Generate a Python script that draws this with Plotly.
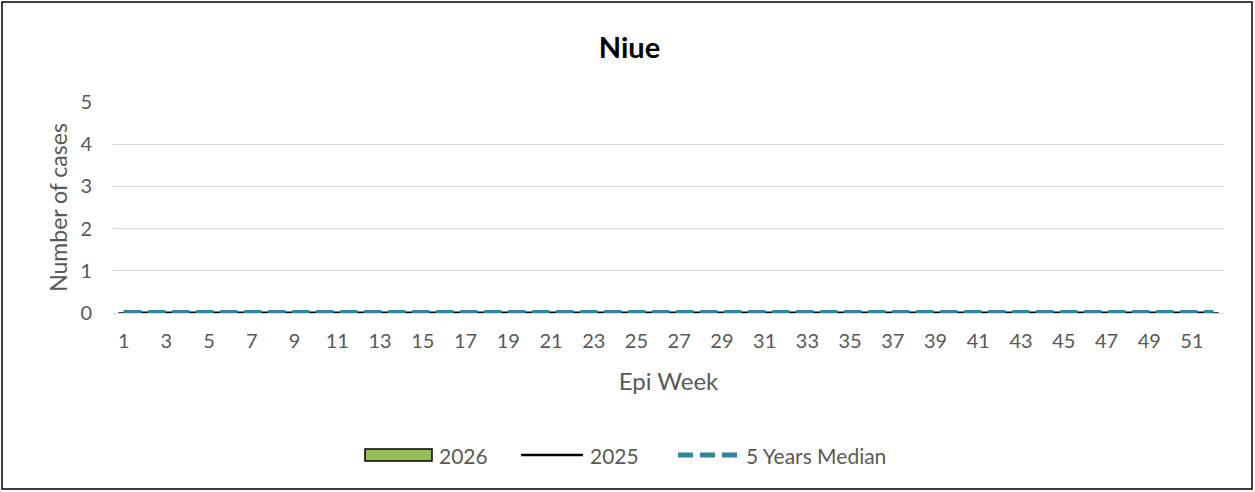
import plotly.graph_objects as go

weeks = [str(w) for w in range(1, 53)]
cases_2026 = [0] * 52
cases_2025 = [0] * 52
median_5y = [0] * 52
tick_weeks = [str(w) for w in range(1, 53, 2)]
series_names = ["2026", "2025", "5 Years Median"]

W, H = 1255, 492
ml, mr, mt, mb = 113, 31, 102, 179
pw, ph = W - ml - mr, H - mt - mb

font_family = "Lato, Open Sans, sans-serif"
gray = "#595959"
green = "#9BBB59"
teal = "#31859C"


def px_x(px):
    return (px - ml) / pw


def px_y(py):
    return (H - mb - py) / ph


fig = go.Figure()
fig.add_trace(go.Bar(x=weeks, y=cases_2026, name=series_names[0], showlegend=False,
                     marker=dict(color=green, line=dict(color="black", width=1.5))))
fig.add_trace(go.Scatter(x=weeks, y=cases_2025, name=series_names[1], mode="lines", showlegend=False,
                         line=dict(color="black", width=3)))
fig.add_trace(go.Scatter(x=weeks, y=median_5y, name=series_names[2], mode="lines", showlegend=False,
                         line=dict(color=teal, width=6, dash="18px,6px")))

# outer frame
fig.add_shape(type="rect", xref="paper", yref="paper",
              x0=px_x(2), x1=px_x(1252), y0=px_y(489), y1=px_y(2),
              line=dict(color="black", width=1.5), layer="below")

# manual legend
ly = px_y(455)
fig.add_shape(type="rect", xref="paper", yref="paper",
              x0=px_x(365), x1=px_x(432), y0=px_y(461), y1=px_y(449),
              fillcolor=green, line=dict(color="black", width=1.5))
fig.add_shape(type="line", xref="paper", yref="paper",
              x0=px_x(521), x1=px_x(583), y0=ly, y1=ly,
              line=dict(color="black", width=2.5))
fig.add_shape(type="line", xref="paper", yref="paper",
              x0=px_x(678), x1=px_x(737), y0=ly, y1=ly,
              line=dict(color=teal, width=5, dash="15px,7px"))
for name, xpx in zip(series_names, [437, 588, 744]):
    fig.add_annotation(text=name, xref="paper", yref="paper", x=px_x(xpx), y=ly,
                       xanchor="left", yanchor="middle", showarrow=False,
                       font=dict(size=21, color=gray, family=font_family))

fig.update_layout(
    width=W, height=H,
    margin=dict(l=ml, r=mr, t=mt, b=mb),
    paper_bgcolor="white", plot_bgcolor="white",
    font=dict(family=font_family, color=gray, size=20),
    title=dict(text="<b>Niue</b>", x=px_x(629.5), xref="paper",
               xanchor="center", y=1 - 48 / H, yanchor="middle",
               font=dict(family=font_family, size=29, color="black")),
    xaxis=dict(type="category", tickmode="array", tickvals=tick_weeks, ticktext=tick_weeks,
               showgrid=False, showline=False, ticks="outside", ticklen=10, tickcolor="rgba(0,0,0,0)",
               title=dict(text="Epi Week", font=dict(size=24, color=gray), standoff=22),
               tickfont=dict(size=20, color=gray)),
    yaxis=dict(range=[0, 5], dtick=1, showgrid=True, gridcolor="#D9D9D9", gridwidth=1.3,
               zeroline=True, zerolinecolor="#D9D9D9", zerolinewidth=1.3, showline=False,
               ticks="outside", ticklen=16, tickcolor="rgba(0,0,0,0)",
               tickfont=dict(size=20, color=gray),
               title=dict(text="Number of cases", font=dict(size=23, color=gray), standoff=6)),
    showlegend=False,
    bargap=0.5,
)

fig.write_html("out.html", config={"displayModeBar": False},
               post_script="document.body.style.margin='0';document.body.style.padding='0';")
